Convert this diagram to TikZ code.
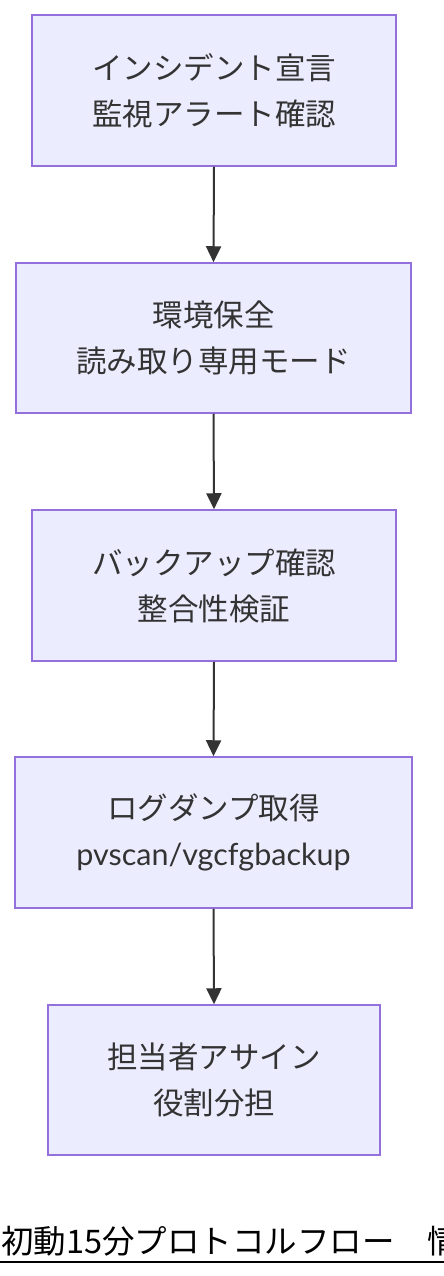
\documentclass[tikz,border=0pt]{standalone}
\usepackage{fontspec}
\setmainfont{Noto Sans CJK JP}
\newfontfamily\latinfont{Lato}
\usetikzlibrary{arrows.meta}
\definecolor{boxfill}{HTML}{ECECFF}
\definecolor{boxdraw}{HTML}{9370DB}
\definecolor{ink}{HTML}{333333}
\tikzset{
  stepbox/.style={draw=boxdraw, fill=boxfill, line width=1.5pt, rectangle, inner sep=0pt,
    align=center, text=ink, font=\fontsize{30.5}{46}\selectfont},
  flow/.style={draw=ink, line width=2pt, -{Triangle[length=16pt,width=15pt]}}
}
\begin{document}
\begin{tikzpicture}[x=1pt,y=-1pt]
\useasboundingbox (0,0) rectangle (444,1276);
\node[stepbox, minimum width=364pt, minimum height=151pt] (a) at (214,90.5) {インシデント宣言\\監視アラート確認};
\node[stepbox, minimum width=395pt, minimum height=150pt] (b) at (213.5,338) {環境保全\\読み取り専用モード};
\node[stepbox, minimum width=364pt, minimum height=151pt] (c) at (214,585.5) {バックアップ確認\\整合性検証};
\node[stepbox, minimum width=397pt, minimum height=151pt] (d) at (213.5,832.5) {ログダンプ取得\\{\latinfont pvscan/vgcfgbackup}};
\node[stepbox, minimum width=332pt, minimum height=150pt] (e) at (214,1080) {担当者アサイン\\役割分担};
\draw[flow] (a.south) -- (b.north);
\draw[flow] (b.south) -- (c.north);
\draw[flow] (c.south) -- (d.north);
\draw[flow] (d.south) -- (e.north);
\node[anchor=base west, inner sep=0pt, text=black, font=\fontsize{32.5}{36}\selectfont] (cap) at (1,1253) {初動15分プロトコルフロー　情};
\coordinate (ul1) at (0,1262);
\coordinate (ul2) at (444,1262);
\draw[line width=2pt, black] (ul1) -- (ul2);
\end{tikzpicture}
\end{document}
